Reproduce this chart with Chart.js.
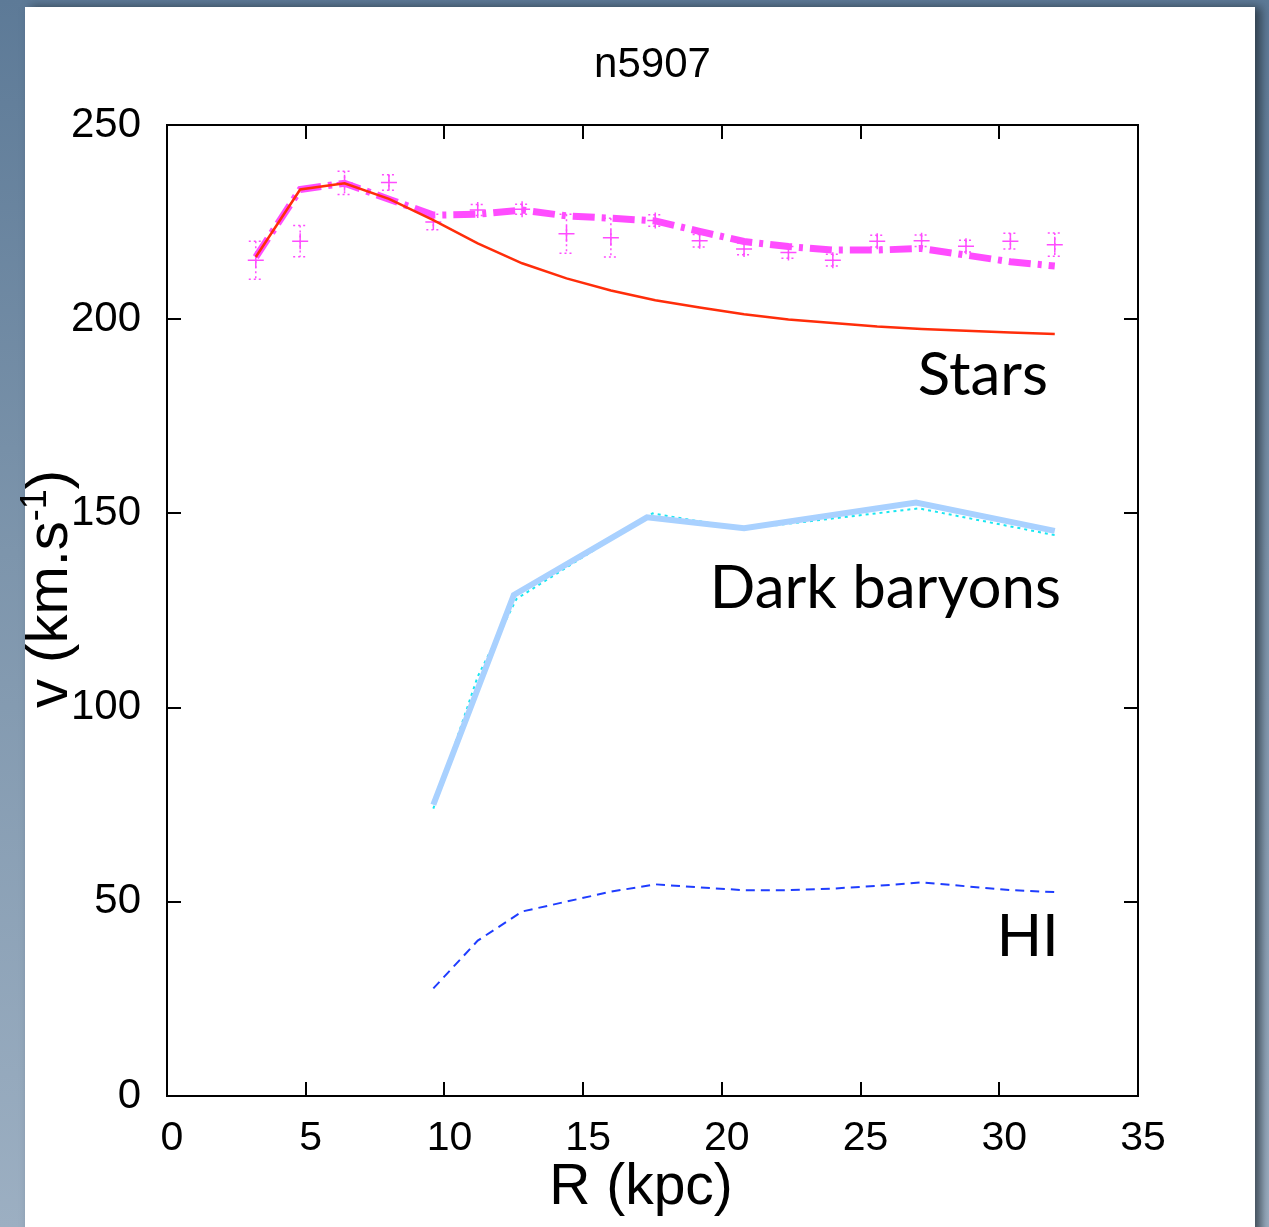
<!DOCTYPE html>
<html>
<head>
<meta charset="utf-8">
<title>n5907</title>
<script src="https://cdn.jsdelivr.net/npm/chart.js@4.4.0/dist/chart.umd.min.js"></script>
<style>
  html, body { margin: 0; padding: 0; }
  body {
    width: 1269px; height: 1227px; overflow: hidden; position: relative;
    background: linear-gradient(180deg, #5d7a97 0%, #7d95ac 45%, #9cafc2 100%);
  }
  #sheet {
    position: absolute; left: 25px; top: 7px; width: 1230px; height: 1250px;
    background: #fff; box-shadow: 6px 0 9px rgba(35, 45, 55, 0.75);
  }
  #wrap { position: absolute; left: 0; top: 0; width: 1269px; height: 1227px; }
</style>
</head>
<body>
<div id="sheet"></div>
<div id="wrap"><canvas id="rotCurve" width="1269" height="1227"></canvas></div>
<script>
// radii of the measured points (kpc)
const radius = [3.2, 4.8, 6.4, 8.0, 9.6, 11.2, 12.8, 14.4, 16.0, 17.6, 19.2, 20.8, 22.4, 24.0, 25.6, 27.2, 28.8, 30.4, 32.0];
// observed rotation speed and its error (km/s)
const vObs = [215.2, 220.1, 235.1, 235.2, 225.0, 228.1, 228.3, 222.0, 221.0, 225.4, 220.2, 218.1, 217.2, 215.2, 220.1, 220.2, 218.8, 220.1, 219.2];
const vErr = [4.9, 4.0, 3.0, 2.0, 2.0, 1.4, 1.3, 5.0, 5.0, 1.5, 1.6, 1.5, 1.5, 1.5, 1.5, 1.5, 1.5, 2.0, 3.0];
// total model and the stellar disc contribution
const vTotal = [216.0, 233.4, 235.0, 230.9, 226.8, 227.0, 228.1, 226.6, 226.0, 225.3, 222.6, 220.0, 218.7, 217.8, 217.8, 218.2, 216.5, 214.8, 213.7];
const vStars = [216.0, 233.4, 235.0, 231.0, 225.5, 219.5, 214.4, 210.5, 207.4, 204.9, 203.0, 201.3, 199.9, 199.0, 198.1, 197.5, 197.0, 196.6, 196.2];
// dark baryon component
const darkR = [9.6, 12.5, 17.3, 20.8, 27.0, 32.0];
const vDark = [75.0, 129.0, 149.0, 146.2, 152.8, 145.5];
const darkFitR = [9.6, 11.2, 12.6, 17.5, 20.8, 27.1, 32.0];
const vDarkFit = [74.0, 108.0, 128.0, 150.0, 146.0, 151.3, 144.4];
// HI gas component
const hiR = [9.6, 11.2, 12.8, 16.0, 17.6, 19.2, 20.8, 22.4, 24.0, 25.6, 27.2, 28.8, 30.4, 32.0];
const vHI = [27.7, 40.0, 47.5, 52.6, 54.5, 53.7, 53.0, 53.0, 53.4, 54.1, 55.0, 54.0, 53.0, 52.5];
// axis ticks
const xTicks = [0, 5, 10, 15, 20, 25, 30, 35];
const yTicks = [0, 50, 100, 150, 200, 250];

const MAGENTA = '#ff4cff';
const toXY = (xs, ys) => xs.map((x, i) => ({ x: x, y: ys[i] }));

// frame with inward ticks, error bars and all the text
const plotDecor = {
  id: 'plotDecor',
  beforeDatasetsDraw(chart) {
    const ctx = chart.ctx;
    const xs = chart.scales.x, ys = chart.scales.y;
    ctx.save();
    ctx.strokeStyle = MAGENTA;
    ctx.lineWidth = 1.5;
    ctx.setLineDash([2, 3]);
    radius.forEach((r, i) => {
      const px = xs.getPixelForValue(r);
      const top = ys.getPixelForValue(vObs[i] + vErr[i]);
      const bot = ys.getPixelForValue(vObs[i] - vErr[i]);
      ctx.beginPath();
      ctx.moveTo(px, top); ctx.lineTo(px, bot);
      ctx.moveTo(px - 7, top); ctx.lineTo(px + 7, top);
      ctx.moveTo(px - 7, bot); ctx.lineTo(px + 7, bot);
      ctx.stroke();
    });
    ctx.restore();
  },
  afterDraw(chart) {
    const ctx = chart.ctx;
    const a = chart.chartArea;
    const xs = chart.scales.x, ys = chart.scales.y;
    ctx.save();
    ctx.strokeStyle = '#000';
    ctx.lineWidth = 2;
    ctx.strokeRect(a.left, a.top, a.right - a.left, a.bottom - a.top);
    ctx.beginPath();
    xTicks.slice(1, -1).forEach(v => {
      const px = Math.round(xs.getPixelForValue(v));
      ctx.moveTo(px, a.bottom); ctx.lineTo(px, a.bottom - 14);
      ctx.moveTo(px, a.top); ctx.lineTo(px, a.top + 14);
    });
    yTicks.slice(1, -1).forEach(v => {
      const py = Math.round(ys.getPixelForValue(v));
      ctx.moveTo(a.left, py); ctx.lineTo(a.left + 14, py);
      ctx.moveTo(a.right, py); ctx.lineTo(a.right - 14, py);
    });
    ctx.stroke();

    ctx.fillStyle = '#000';
    ctx.textBaseline = 'alphabetic';
    ctx.textAlign = 'center';
    ctx.font = '42px "Liberation Sans"';
    ctx.fillText('n5907', (a.left + a.right) / 2, 77);
    ctx.font = '57px "Liberation Sans"';
    ctx.fillText('R (kpc)', 641, 1204);

    // component labels
    ctx.textAlign = 'right';
    ctx.font = '60px Lato';
    ctx.fillText('Stars', 1048, 395);
    ctx.fillText('Dark baryons', 1061, 608);
    ctx.font = '62px "Liberation Sans"';
    ctx.fillText('HI', 1059, 956);

    // rotated y title with superscript exponent
    ctx.translate(67, 708);
    ctx.rotate(-Math.PI / 2);
    ctx.textAlign = 'left';
    ctx.font = '58px "Liberation Sans"';
    const head = 'v (km.s';
    ctx.fillText(head, 0, 0);
    let off = ctx.measureText(head).width;
    ctx.font = '36px "Liberation Sans"';
    ctx.fillText('-1', off, -21);
    off += ctx.measureText('-1').width;
    ctx.font = '58px "Liberation Sans"';
    ctx.fillText(')', off, 0);
    ctx.restore();
  }
};

const ctx = document.getElementById('rotCurve').getContext('2d');
const rotChart = new Chart(ctx, {
  type: 'line',
  data: {
    datasets: [
      { label: 'Stars', data: toXY(radius, vStars), borderColor: '#ff2d0a', borderWidth: 2.5, pointRadius: 0, order: 0 },
      { label: 'Total', data: toXY(radius, vTotal), borderColor: MAGENTA, borderWidth: 7, borderDash: [22, 7, 4, 7], pointRadius: 0, order: 1 },
      { label: 'Observed', data: toXY(radius, vObs), showLine: false, pointStyle: 'cross', pointRadius: 8, borderColor: MAGENTA, borderWidth: 1.5, order: 2 },
      { label: 'Dark baryons', data: toXY(darkR, vDark), borderColor: '#a9d1ff', borderWidth: 6, pointRadius: 0, order: 3 },
      { label: 'Dark baryons fit', data: toXY(darkFitR, vDarkFit), borderColor: '#19e6f0', borderWidth: 2, borderDash: [3, 4], pointRadius: 0, order: 4 },
      { label: 'HI', data: toXY(hiR, vHI), borderColor: '#1f3dff', borderWidth: 2, borderDash: [9, 6], pointRadius: 0, order: 5 }
    ]
  },
  options: {
    responsive: false,
    animation: false,
    layout: { padding: { left: 0, top: 125, right: 131, bottom: 0 } },
    plugins: { legend: { display: false }, tooltip: { enabled: false } },
    scales: {
      x: {
        type: 'linear', min: 0, max: 35,
        grid: { display: false, drawTicks: false },
        border: { display: false },
        afterBuildTicks: s => { s.ticks = xTicks.map(v => ({ value: v })); },
        afterFit: s => { s.height = 131; },
        ticks: { color: '#000', font: { family: 'Liberation Sans', size: 41 }, padding: 18, labelOffset: 5, maxRotation: 0, autoSkip: false }
      },
      y: {
        type: 'linear', min: 0, max: 250,
        grid: { display: false, drawTicks: false },
        border: { display: false },
        afterBuildTicks: s => { s.ticks = yTicks.map(v => ({ value: v })); },
        afterFit: s => { s.width = 167; },
        ticks: { color: '#000', font: { family: 'Liberation Sans', size: 42 }, padding: 26, autoSkip: false }
      }
    }
  },
  plugins: [plotDecor]
});
</script>
</body>
</html>
